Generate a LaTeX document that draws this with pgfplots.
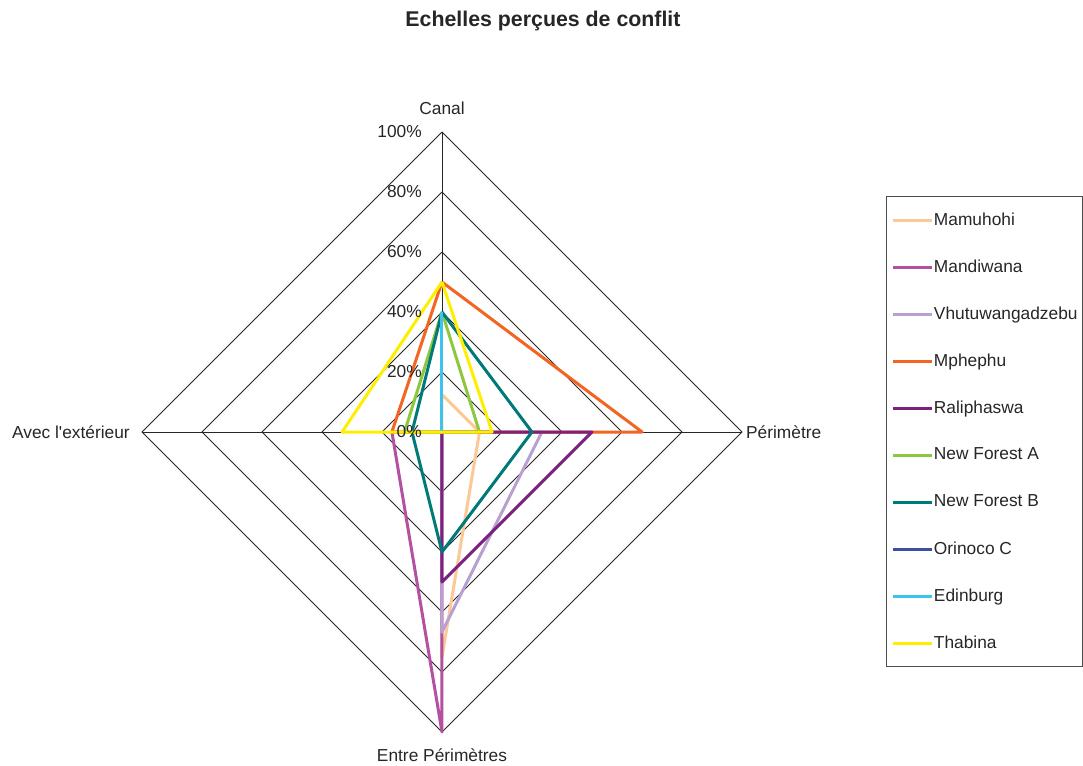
\documentclass[border=0pt]{standalone}
\usepackage{fontspec}
\setmainfont{Liberation Sans}[Ligatures=TeXOff]
\usepackage{pgfplots}
\pgfplotsset{compat=1.18}

\definecolor{cMamuhohi}{RGB}{252,200,150}
\definecolor{cMandiwana}{RGB}{180,80,160}
\definecolor{cVhutu}{RGB}{185,160,210}
\definecolor{cMphephu}{RGB}{242,101,34}
\definecolor{cRaliphaswa}{RGB}{123,33,128}
\definecolor{cNFA}{RGB}{141,198,63}
\definecolor{cNFB}{RGB}{0,122,120}
\definecolor{cOrinoco}{RGB}{58,81,162}
\definecolor{cEdinburg}{RGB}{60,196,238}
\definecolor{cThabina}{RGB}{255,238,0}
\definecolor{txt}{RGB}{38,38,38}

\pgfplotsset{
  series/.style={line width=2.25pt, line join=round, #1},
  gridline/.style={forget plot, black!85, line width=0.6pt},
}

\begin{document}
\begin{tikzpicture}
\path[use as bounding box] (-331.5pt,-249.75pt) rectangle (480.75pt,324pt);
\begin{axis}[
  at={(0pt,0pt)}, anchor=origin,
  x=2.25pt, y=2.25pt,
  xmin=-100, xmax=100, ymin=-100, ymax=100,
  hide axis, clip=false,
  font=\fontsize{13}{15}\selectfont,
  text=txt,
  legend cell align=left,
  legend image code/.code={\draw[#1] (0pt,0pt) -- (29.25pt,0pt);},
  legend style={
    at={(1.24,0.8933)}, anchor=north west,
    draw=black!70, line width=0.75pt,
    inner xsep=3.6pt, inner ysep=0pt, row sep=0pt,
    font=\fontsize{13}{15}\selectfont, text=txt,
    nodes={inner sep=0pt, minimum height=35.25pt},
    /tikz/every odd column/.append style={column sep=0.5pt},
  },
]
% grid
\addplot[gridline] coordinates {(0,20) (20,0) (0,-20) (-20,0) (0,20)};
\addplot[gridline] coordinates {(0,40) (40,0) (0,-40) (-40,0) (0,40)};
\addplot[gridline] coordinates {(0,60) (60,0) (0,-60) (-60,0) (0,60)};
\addplot[gridline] coordinates {(0,80) (80,0) (0,-80) (-80,0) (0,80)};
\addplot[gridline] coordinates {(0,100) (100,0) (0,-100) (-100,0) (0,100)};
\addplot[gridline] coordinates {(0,100) (0,-100)};
\addplot[gridline] coordinates {(-100,0) (100,0)};

% order: Canal, Perimetre, Entre Perimetres, Avec l'exterieur
\addplot[series=cMamuhohi] coordinates {(0,12.5) (12.5,0) (0,-75) (0,0) (0,12.5)};
\addlegendentry{Mamuhohi}
\addplot[series=cMandiwana] coordinates {(0,0) (0,0) (0,-100) (-16.7,0) (0,0)};
\addlegendentry{Mandiwana}
\addplot[series=cVhutu] coordinates {(0,0) (33.3,0) (0,-66.7) (0,0) (0,0)};
\addlegendentry{Vhutuwangadzebu}
\addplot[series=cMphephu] coordinates {(0,50) (66.7,0) (0,0) (-16.7,0) (0,50)};
\addlegendentry{Mphephu}
\addplot[series=cRaliphaswa] coordinates {(0,0) (50,0) (0,-50) (0,0) (0,0)};
\addlegendentry{Raliphaswa}
\addplot[series=cNFA] coordinates {(0,40) (12.5,0) (0,0) (-12.5,0) (0,40)};
\addlegendentry{New Forest A}
\addplot[series=cNFB] coordinates {(0,40) (30,0) (0,-40) (-10,0) (0,40)};
\addlegendentry{New Forest B}
\addplot[series=cOrinoco] coordinates {(0,0) (0,0) (0,0) (0,0) (0,0)};
\addlegendentry{Orinoco C}
\addplot[series=cEdinburg] coordinates {(0,40) (0,0) (0,0) (0,0) (0,40)};
\addlegendentry{Edinburg}
\addplot[series=cThabina] coordinates {(0,50) (16.7,0) (0,0) (-33.3,0) (0,50)};
\addlegendentry{Thabina}

% radial labels
\node[anchor=east, inner sep=0pt] at (axis cs:-6.67,0) {0\%};
\node[anchor=east, inner sep=0pt] at (axis cs:-6.67,20) {20\%};
\node[anchor=east, inner sep=0pt] at (axis cs:-6.67,40) {40\%};
\node[anchor=east, inner sep=0pt] at (axis cs:-6.67,60) {60\%};
\node[anchor=east, inner sep=0pt] at (axis cs:-6.67,80) {80\%};
\node[anchor=east, inner sep=0pt] at (axis cs:-6.67,100) {100\%};

% category labels
\node at (axis cs:0,108) {Canal};
\node[anchor=west, inner sep=0pt] at (axis cs:101.3,0) {Périmètre};
\node at (axis cs:0,-107.7) {Entre Périmètres};
\node[anchor=east, inner sep=0pt] at (axis cs:-104,0) {Avec l'extérieur};
\end{axis}
\node[font=\bfseries\fontsize{16}{19}\selectfont, text=txt] at (75.75pt,308.25pt) {Echelles perçues de conflit};
\end{tikzpicture}
\end{document}
